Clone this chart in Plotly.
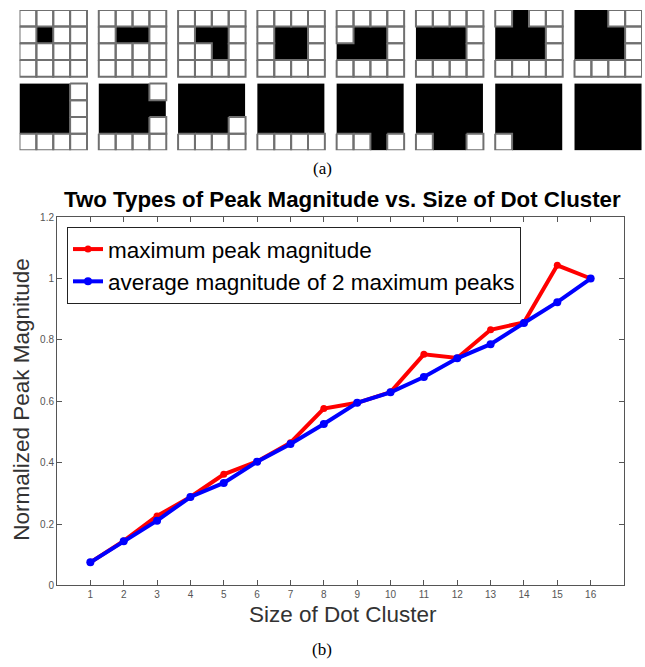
import plotly.graph_objects as go

# ---------------- data ----------------
cluster_size = list(range(1, 17))
max_peak = [0.075, 0.145, 0.226, 0.288, 0.362, 0.404, 0.465, 0.576, 0.595, 0.630,
            0.753, 0.741, 0.833, 0.857, 1.043, 1.000]
avg_two_peaks = [0.075, 0.144, 0.211, 0.288, 0.334, 0.403, 0.461, 0.526, 0.595, 0.629,
                 0.679, 0.740, 0.786, 0.855, 0.923, 1.000]
x_ticks = list(range(1, 17))
y_ticks = [0, 0.2, 0.4, 0.6, 0.8, 1.0, 1.2]
y_ticktext = ["0", "0.2", "0.4", "0.6", "0.8", "1", "1.2"]

# 4x4 dot-cluster patterns ('#' = filled cell), one per cluster size
patterns = [
    ["....", ".#..", "....", "...."],
    ["....", ".##.", "....", "...."],
    ["....", ".##.", "..#.", "...."],
    ["....", ".##.", ".##.", "...."],
    ["....", ".##.", "###.", "...."],
    ["....", "###.", "###.", "...."],
    [".#..", "###.", "###.", "...."],
    ["##..", "###.", "###.", "...."],
    ["###.", "###.", "###.", "...."],
    ["###.", "####", "###.", "...."],
    ["####", "####", "###.", "...."],
    ["####", "####", "####", "...."],
    ["####", "####", "####", "..#."],
    ["####", "####", "####", ".##."],
    ["####", "####", "####", ".###"],
    ["####", "####", "####", "####"],
]

W, H = 645, 667
FONT = "Liberation Sans, Arial, Helvetica, sans-serif"
SERIF = "Liberation Serif, Times New Roman, serif"

fig = go.Figure()

# ---------------- icons (top panel) ----------------
GX = 0.70   # horizontal gap between icons, in cell units
GY = 0.415  # vertical gap between icon rows, in cell units
ox, oy = [], []
for k, pat in enumerate(patterns):
    c, r = k % 8, k // 8
    left = c * (4 + GX)
    top = r * (4 + GY)
    z = [[1 if ch == "#" else 0 for ch in row] for row in pat]
    fig.add_trace(go.Heatmap(
        z=z, x0=left + 0.5, dx=1, y0=top + 0.5, dy=1,
        colorscale=[[0, "white"], [1, "black"]], zmin=0, zmax=1,
        showscale=False, hoverinfo="skip", xaxis="x2", yaxis="y2"))
    for i, row in enumerate(pat):
        for j, ch in enumerate(row):
            if ch == ".":
                x0, x1 = left + j, left + j + 1
                y0, y1 = top + i, top + i + 1
                ox += [x0, x1, x1, x0, x0, None]
                oy += [y0, y0, y1, y1, y0, None]
fig.add_trace(go.Scatter(x=ox, y=oy, mode="lines",
                         line=dict(color="#707070", width=2),
                         hoverinfo="skip", showlegend=False,
                         xaxis="x2", yaxis="y2"))

# ---------------- main chart ----------------
fig.add_trace(go.Scatter(
    x=cluster_size, y=max_peak, mode="lines+markers",
    name="maximum peak magnitude",
    line=dict(color="#ff0000", width=4), marker=dict(color="#ff0000", size=7)))
fig.add_trace(go.Scatter(
    x=cluster_size, y=avg_two_peaks, mode="lines+markers",
    name="average magnitude of 2 maximum peaks",
    line=dict(color="#0000ff", width=4), marker=dict(color="#0000ff", size=8)))

# plot-area geometry (pixels)
L, R, T, B = 57, 624, 215, 590
axis_common = dict(showline=True, linecolor="#555", linewidth=1, mirror="ticks",
                   ticks="inside", ticklen=5, tickcolor="#555", showgrid=False,
                   zeroline=False, tickfont=dict(family=FONT, size=10, color="#555"),
                   fixedrange=True)

fig.update_layout(
    width=W, height=H, autosize=False,
    margin=dict(l=0, r=0, t=0, b=0),
    paper_bgcolor="white", plot_bgcolor="white",
    font=dict(family=FONT),
    xaxis=dict(domain=[L / W, R / W], range=[0, 17], tickvals=x_ticks, **axis_common),
    yaxis=dict(domain=[1 - B / H, 1 - T / H], range=[0, 1.2], tickvals=y_ticks,
               ticktext=y_ticktext, **axis_common),
    xaxis2=dict(domain=[19.5 / W, 642 / W], range=[0, 8 * 4 + 7 * GX], visible=False,
                fixedrange=True),
    yaxis2=dict(domain=[1 - 147 / H, 1 - 4 / H], range=[8 + GY, 0], visible=False,
                fixedrange=True),
    legend=dict(x=67 / W, y=1 - 225 / H, xanchor="left", yanchor="top",
                bgcolor="white", bordercolor="#222", borderwidth=1,
                font=dict(family=FONT, size=22.5, color="black"),
                tracegroupgap=0, itemwidth=30),
    showlegend=True,
)

annotations = [
    dict(text="(a)", x=322 / W, y=1 - 165 / H, font=dict(family=SERIF, size=17, color="black")),
    dict(text="(b)", x=322 / W, y=1 - 655 / H, font=dict(family=SERIF, size=17, color="black")),
    dict(text="<b>Two Types of Peak Magnitude vs. Size of Dot Cluster</b>",
         x=342 / W, y=1 - 197 / H, font=dict(family=FONT, size=22.3, color="black")),
    dict(text="Size of Dot Cluster", x=343 / W, y=1 - 620 / H,
         font=dict(family=FONT, size=22.5, color="#333")),
    dict(text="Normalized Peak Magnitude", x=22 / W, y=1 - 401 / H, textangle=-90,
         font=dict(family=FONT, size=22.5, color="#333")),
]
for a in annotations:
    a.update(xref="paper", yref="paper", showarrow=False, xanchor="center", yanchor="middle")
fig.update_layout(annotations=annotations)

fig.write_html("out.html")
